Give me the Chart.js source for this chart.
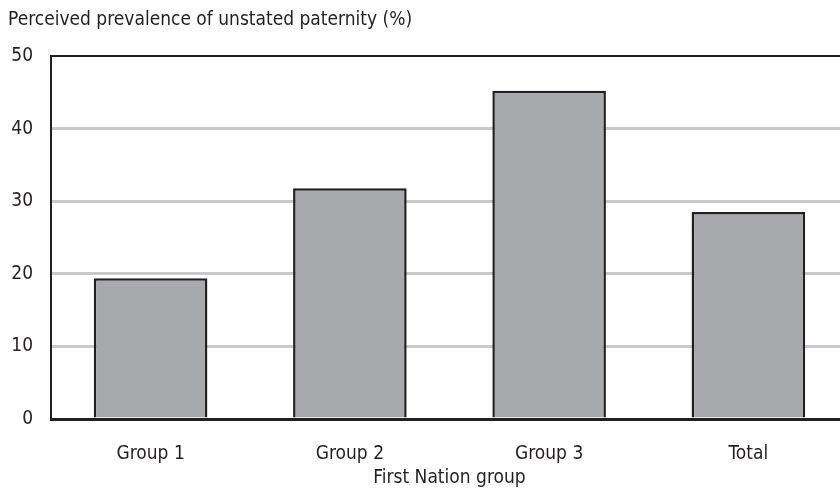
<!DOCTYPE html>
<html>
<head>
<meta charset="utf-8">
<script src="https://cdn.jsdelivr.net/npm/chart.js@4/dist/chart.umd.min.js"></script>
<style>
  html, body { margin: 0; padding: 0; background: #fff; overflow: hidden; }
  #wrap { width: 848px; height: 494px; }
</style>
</head>
<body>
<div id="wrap"><canvas id="chart1" width="848" height="494"></canvas></div>
<script>
// data
const categories = ['Group 1', 'Group 2', 'Group 3', 'Total'];
const prevalence = [19.4, 31.8, 45.2, 28.5];
const yTicks = [0, 10, 20, 30, 40, 50];

const ink = '#231f20';
const fontFamily = "'DejaVu Sans Condensed', 'Liberation Sans Narrow', sans-serif";

const ctx = document.getElementById('chart1');

new Chart(ctx, {
    type: 'bar',
    data: {
        labels: categories,
        datasets: [{
            label: 'Perceived prevalence',
            data: prevalence,
            backgroundColor: '#a7a9ac',
            borderColor: ink,
            borderWidth: 2.5,
            borderSkipped: 'bottom',
            barPercentage: 0.57,
            categoryPercentage: 1
        }]
    },
    options: {
        responsive: false,
        animation: false,
        layout: { padding: { left: 8, top: 0, right: 0, bottom: 0 } },
        plugins: {
            legend: { display: false },
            tooltip: { enabled: false },
            title: {
                display: true,
                text: 'Perceived prevalence of unstated paternity (%)',
                align: 'start',
                color: ink,
                font: { family: fontFamily, size: 19, weight: 'normal', lineHeight: 1.2 },
                padding: { top: 9, bottom: 24.2 }
            }
        },
        scales: {
            x: {
                grid: { display: false },
                border: { display: true, color: ink, width: 3 },
                ticks: {
                    color: ink,
                    padding: 16,
                    font: { family: fontFamily, size: 19 }
                },
                title: {
                    display: true,
                    text: 'First Nation group',
                    color: ink,
                    font: { family: fontFamily, size: 19, lineHeight: 1.2 },
                    padding: { top: 0, bottom: 4.6 }
                },
                afterFit(scale) { scale.height = 75; }
            },
            y: {
                min: 0,
                max: 50,
                afterBuildTicks(scale) { scale.ticks = yTicks.map(v => ({ value: v })); },
                grid: {
                    drawTicks: false,
                    color: c => (c.tick.value === 50 || c.tick.value === 0 ? ink : '#c8c9ca'),
                    lineWidth: c => (c.tick.value === 50 ? 2 : 3)
                },
                border: { display: true, color: ink, width: 2 },
                ticks: {
                    color: ink,
                    padding: 18,
                    font: { family: fontFamily, size: 19 }
                },
                afterFit(scale) { scale.width = 43; }
            }
        }
    }
});
</script>
</body>
</html>
